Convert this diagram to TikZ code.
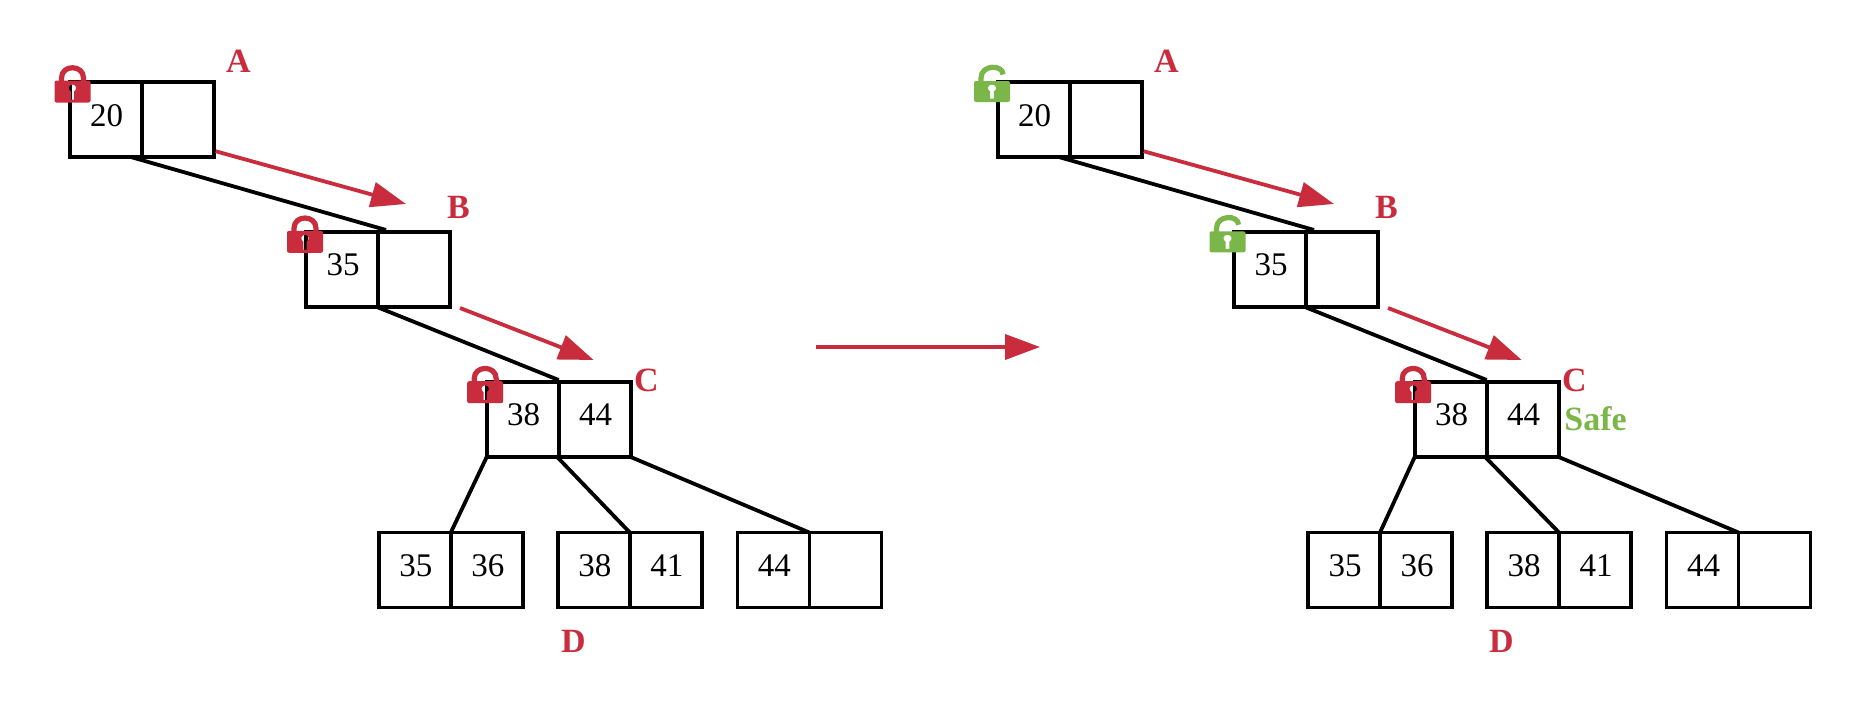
\documentclass[tikz,border=0pt]{standalone}
\usepackage{fontspec}
\setmainfont{Liberation Serif}
\usetikzlibrary{arrows.meta,positioning,calc}
\definecolor{cRed}{HTML}{C92C3C}
\definecolor{cGreen}{HTML}{7AB648}
\tikzset{
  cell/.style={draw=black, line width=1.8pt, minimum width=36pt, minimum height=37.5pt,
               inner sep=0pt, outer sep=0pt, text height=11pt, text depth=4.6pt,
               execute at begin node=\hspace{1pt},
               font=\fontsize{16.5}{16.5}\selectfont},
  treeline/.style={draw=black, line width=1.9pt},
  walk/.style={draw=cRed, line width=1.9pt, -{Triangle[length=17.5pt,width=12.5pt]}},
  tag/.style={font=\fontsize{17}{17}\selectfont\bfseries, text=cRed, inner sep=0pt},
  lockshut/.pic={
    \fill[cRed, even odd rule, rounded corners=1pt] (-18,-11) rectangle (18,11)
      [sharp corners] (-1.6,8) -- (-1.6,0) .. controls (-5,-2) and (-4,-7) .. (0,-7)
      .. controls (4,-7) and (5,-2) .. (1.6,0) -- (1.6,8) -- cycle;
    \draw[cRed, line width=2.6pt] (-11,-10) -- (-11,-13.5) .. controls (-11,-27.2) and (11,-27.2) .. (11,-13.5) -- (11,-10);
  },
  lockopen/.pic={
    \fill[cGreen, even odd rule, rounded corners=1pt] (-18,-10.5) rectangle (18,10.5)
      [sharp corners] (-1.8,7) -- (-1.8,0) .. controls (-5.5,-2) and (-4.5,-7) .. (0,-7)
      .. controls (4.5,-7) and (5.5,-2) .. (1.8,0) -- (1.8,7) -- cycle;
    \draw[cGreen, line width=2.6pt] (-11,-10) -- (-11,-13.5) .. controls (-11,-27.2) and (11,-27.2) .. (11,-17);
  },
}
% one whole tree: name prefix, x offset, lock of A and B, x of these two locks, x offset of the leaves
\newcommand{\halftree}[6]{
  \node[cell] (#1a1) at ({#2+105.7},119.75) {20};
  \node[cell, right=0pt of #1a1] (#1a2) {};
  \node[cell] (#1b1) at ({#2+342},269.5) {35};
  \node[cell, right=0pt of #1b1] (#1b2) {};
  \node[cell] (#1c1) at ({#2+522.7},419.5) {38};
  \node[cell, right=0pt of #1c1] (#1c2) {44};
  \node[cell] (#1d1) at ({#2+#6+416},570) {35};
  \node[cell, right=0pt of #1d1] (#1d2) {36};
  \node[cell] (#1e1) at ({#2+#6+595},570) {38};
  \node[cell, right=0pt of #1e1] (#1e2) {41};
  \node[cell] (#1f1) at ({#2+#6+774.5},570) {44};
  \node[cell, right=0pt of #1f1] (#1f2) {};
  \pic at ({#2+#4},91.5) {#3};
  \pic at ({#2+#5},241.8) {#3};
  \pic at ({#2+485.2},392.2) {lockshut};
  \node[tag] (#1tagA) at ({#2+238.5},61) {A};
  \node[tag] (#1tagB) at ({#2+458.5},207) {B};
  \node[tag] (#1tagC) at ({#2+646.5},380) {C};
  \node[tag] (#1tagD) at ({#2+573.5},641) {D};
  \draw[treeline] ($(#1a1.south east)+(-10,0)$) -- ($(#1b1.north east)+(8,-2)$);
  \draw[treeline] ($(#1b1.south east)+(-1,0)$) -- ($(#1c1.north east)+(0,-2)$);
  \draw[treeline] (#1c1.south west) -- (#1d1.north east);
  \draw[treeline] ($(#1c1.south east)+(-1.5,0)$) -- (#1e1.north east);
  \draw[treeline] (#1c2.south east) -- (#1f1.north east);
  \draw[walk] ($(#1a2.south east)+(2,-6)$) -- ($(#1b2.north)+(-8,-28)$);
  \draw[walk] ($(#1b2.south east)+(10,1)$) -- ($(#1c2.north)+(-1,-22)$);
}
\begin{document}
\begin{tikzpicture}[x=0.5pt, y=-0.5pt]
  \useasboundingbox (0,0) rectangle (1858,707);
  \halftree{l}{0}{lockshut}{72.5}{305}{-1.2}
  \halftree{r}{928}{lockopen}{64}{299.5}{0}
  \node[tag, text=cGreen] (safe) at (1595.5,419) {Safe};
  \coordinate (stepfrom) at (815.5,347);
  \coordinate (stepto) at (1040,347);
  \draw[walk] (stepfrom) -- (stepto);
\end{tikzpicture}
\end{document}
